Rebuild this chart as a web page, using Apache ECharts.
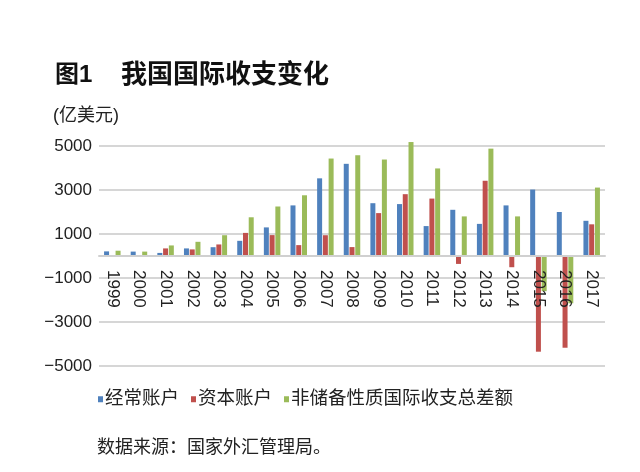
<!DOCTYPE html>
<html>
<head>
<meta charset="utf-8">
<script src="https://cdn.jsdelivr.net/npm/echarts@6/dist/echarts.min.js"></script>
<style>html,body{margin:0;padding:0;background:#fff;}#c{width:640px;height:472px;}</style>
</head>
<body>
<div id="c"></div>
<script>
var years = ['1999','2000','2001','2002','2003','2004','2005','2006','2007','2008','2009','2010','2011','2012','2013','2014','2015','2016','2017'];
var currentAccount = [210, 200, 140, 345, 400, 690, 1300, 2300, 3530, 4190, 2400, 2360, 1360, 2100, 1460, 2300, 3020, 2000, 1600];
var capitalAccount = [30, 0, 345, 300, 525, 1050, 950, 495, 945, 405, 1950, 2810, 2610, -360, 3420, -510, -4350, -4170, 1440];
var nonReserveBalance = [240, 200, 480, 645, 945, 1760, 2250, 2760, 4430, 4580, 4385, 5180, 3980, 1800, 4880, 1800, -1600, -2150, 3110];
var yTicks = [-5000, -3000, -1000, 1000, 3000, 5000];

var FONT = "'Liberation Sans', 'Noto Sans CJK SC', sans-serif";
var GRID_TOP = 146, GRID_H = 220;
var chart = echarts.init(document.getElementById('c'), null, {renderer: 'canvas'});
chart.setOption({
  backgroundColor: '#fff',
  animation: false,
  textStyle: {fontFamily: FONT},
  graphic: [
    {type: 'text', left: 55, top: 63, style: {text: '图1', font: 'bold 24px ' + FONT, fill: '#111'}},
    {type: 'text', left: 121, top: 63, style: {text: '我国国际收支变化', font: 'bold 26px ' + FONT, fill: '#111'}},
    {type: 'text', left: 53, top: 107, style: {text: '(亿美元)', font: '18px ' + FONT, fill: '#222'}},
    {type: 'text', left: 97, top: 439, style: {text: '数据来源：国家外汇管理局。', font: '18px ' + FONT, fill: '#222'}}
  ],
  legend: {
    left: 93, top: 385,
    itemWidth: 5, itemHeight: 6, itemGap: 12,
    icon: 'rect',
    textStyle: {fontSize: 18.5, color: '#222', fontFamily: FONT, padding: [0, 0, 0, -3]},
    data: ['经常账户', '资本账户', '非储备性质国际收支总差额']
  },
  grid: {left: 99, right: 35, top: GRID_TOP, height: GRID_H, containLabel: false},
  xAxis: {
    type: 'category',
    data: years,
    z: 5,
    offset: -GRID_H / 2,
    axisLine: {onZero: false, lineStyle: {color: '#d0d0d0', width: 2}},
    axisTick: {show: false},
    axisLabel: {rotate: -90, fontSize: 17, color: '#222', margin: 14, fontFamily: FONT}
  },
  yAxis: {
    type: 'value',
    min: yTicks[0], max: yTicks[yTicks.length - 1], interval: 2000,
    axisLine: {show: false},
    axisTick: {show: false},
    splitLine: {lineStyle: {color: '#d6d6d6', width: 2}},
    axisLabel: {
      fontSize: 17, color: '#222', margin: 7, fontFamily: FONT,
      formatter: function (v) { return v < 0 ? '\u2212' + Math.abs(v) : String(v); }
    }
  },
  series: [
    {name: '经常账户', type: 'bar', clip: false, data: currentAccount, barWidth: 5, barGap: '15%', itemStyle: {color: '#4F81BD'}},
    {name: '资本账户', type: 'bar', clip: false, data: capitalAccount, barWidth: 5, barGap: '15%', itemStyle: {color: '#C0504D'}},
    {name: '非储备性质国际收支总差额', type: 'bar', clip: false, data: nonReserveBalance, barWidth: 5, barGap: '15%', itemStyle: {color: '#9BBB59'}}
  ]
});
</script>
</body>
</html>
